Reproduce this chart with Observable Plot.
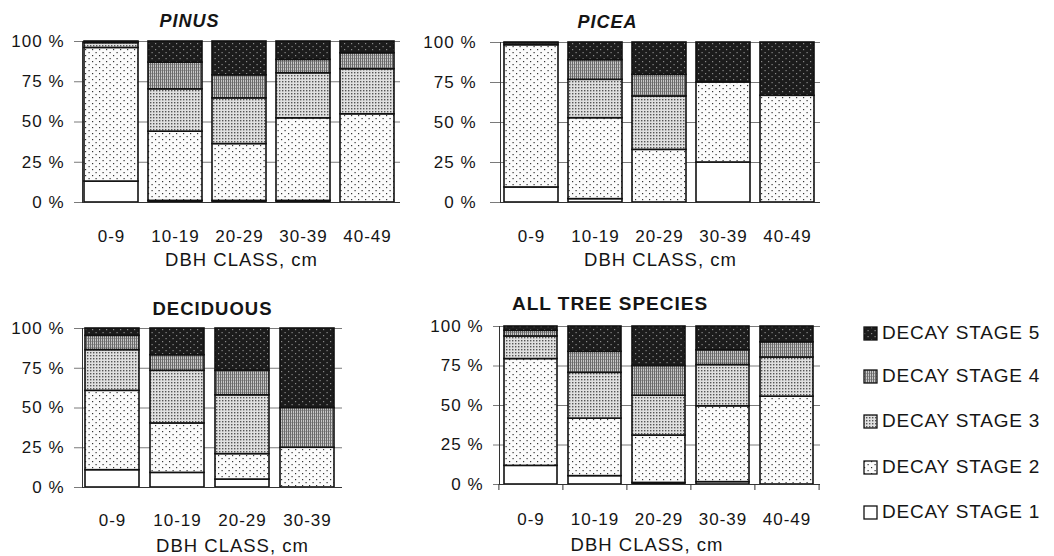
<!DOCTYPE html>
<html>
<head>
<meta charset="utf-8">
<script src="https://cdn.jsdelivr.net/npm/d3@7"></script>
<script src="https://cdn.jsdelivr.net/npm/@observablehq/plot@0.6"></script>
<style>
  html, body { margin: 0; padding: 0; background: #fff; }
  #fig { position: relative; width: 1054px; height: 556px; background: #fff; overflow: hidden;
         font-family: "Liberation Sans", Arial, sans-serif; color: #151515; }
  #fig > .panel { position: absolute; }
  .legend-row { position: absolute; left: 863px; display: flex; align-items: center; height: 20px;
                font-size: 19px; letter-spacing: 0.8px; color: #151515; }
  .legend-row svg { margin-right: 4px; }
</style>
</head>
<body>
<svg width="0" height="0" style="position:absolute">
  <defs>
    <pattern id="ds1" width="7" height="6" patternUnits="userSpaceOnUse">
      <rect width="7" height="6" fill="#ffffff"/>
    </pattern>
    <pattern id="ds2" width="7" height="6" patternUnits="userSpaceOnUse">
      <rect width="7" height="6" fill="#fbfbfb"/>
      <rect x="1" y="1" width="1.2" height="1.2" fill="#333"/>
      <rect x="4.5" y="4" width="1.2" height="1.2" fill="#333"/>
    </pattern>
    <pattern id="ds3" width="3" height="3" patternUnits="userSpaceOnUse">
      <rect width="3" height="3" fill="#e0e0e0"/>
      <rect x="0" y="0" width="1.4" height="1.4" fill="#555"/>
    </pattern>
    <pattern id="ds4" width="2" height="3" patternUnits="userSpaceOnUse">
      <rect width="2" height="3" fill="#c8c8c8"/>
      <rect x="0" y="0" width="1" height="3" fill="#6a6a6a"/>
      <rect x="1" y="1" width="1" height="1" fill="#999"/>
    </pattern>
    <pattern id="ds5" width="7" height="6" patternUnits="userSpaceOnUse">
      <rect width="7" height="6" fill="#1c1c1c"/>
      <rect x="1" y="1" width="1.2" height="1.2" fill="#8a8a8a"/>
      <rect x="4.5" y="4" width="1.2" height="1.2" fill="#8a8a8a"/>
    </pattern>
  </defs>
</svg>
<div id="fig"></div>
<script>
// ---- data ----
const stages = ["DECAY STAGE 1", "DECAY STAGE 2", "DECAY STAGE 3", "DECAY STAGE 4", "DECAY STAGE 5"];
const stageFills = ["url(#ds1)", "url(#ds2)", "url(#ds3)", "url(#ds4)", "url(#ds5)"];
const classes5 = ["0-9", "10-19", "20-29", "30-39", "40-49"];
const classes4 = ["0-9", "10-19", "20-29", "30-39"];
const yTicks = [0, 25, 50, 75, 100];
const xLabel = "DBH CLASS, cm";

// percentage per DBH class, stages 1..5 (bottom to top)
const pinus = [
  [13, 83, 3, 0.5, 0.5],
  [1, 43, 26.3, 16.6, 13.1],
  [1, 35.3, 28.4, 14.3, 21],
  [1, 51.3, 28, 8.3, 11.4],
  [0, 54.8, 28, 9.9, 7.3]
];
const picea = [
  [9.4, 88.9, 1.2, 0.5, 0],
  [2.1, 50.6, 24, 12.3, 11],
  [0, 32.9, 33.4, 13.5, 20.2],
  [25, 50, 0, 0, 25],
  [0, 66.7, 0, 0, 33.3]
];
const deciduous = [
  [10.9, 49.9, 25.6, 9, 4.6],
  [9.2, 31.1, 33.1, 9.8, 16.8],
  [5, 16, 37, 15.4, 26.6],
  [0, 25, 0, 25, 50]
];
const allSpecies = [
  [11.8, 67.6, 14.3, 3.6, 2.7],
  [5.3, 36.4, 29, 13.3, 16],
  [1, 30, 25.2, 18.8, 25],
  [1.5, 48, 26.1, 9.4, 15],
  [0, 55.6, 24.8, 9.6, 10]
];

function toRows(values, classes) {
  const rows = [];
  stages.forEach((s, j) => classes.forEach((c, i) => rows.push({cls: c, stage: s, value: values[i][j]})));
  return rows;
}

function panel(cfg) {
  const rows = toRows(cfg.values, cfg.classes);
  const step = (cfg.xRange[1] - cfg.xRange[0]) / cfg.classes.length;
  const marks = [
    Plot.gridY([25, 50, 75, 100], {stroke: "#7a7a7a", strokeOpacity: 1}),
    Plot.barY(rows, Plot.stackY({x: "cls", y: "value", fill: "stage", stroke: "#111", strokeWidth: 1.6})),
    Plot.axisY({ticks: yTicks, tickSize: cfg.yTickSize, tickPadding: cfg.yTickPad, tickFormat: d => `${d} %`,
                label: null, stroke: "#7a7a7a", fill: "#151515"}),
    Plot.frame({anchor: "left", stroke: "#333"}),
    Plot.ruleY([0], {stroke: "#333"}),
    Plot.axisX({tickSize: 0, tickPadding: cfg.xTickPad, label: null, fill: "#151515"}),
    Plot.text([cfg.title], {frameAnchor: "top", dx: cfg.titleDx, dy: cfg.titleDy, lineAnchor: "middle",
                fontWeight: "bold", fontStyle: cfg.italic ? "italic" : "normal", fontSize: cfg.titleSize, fill: "#151515"}),
    Plot.text([xLabel], {frameAnchor: "bottom", dx: cfg.labelDx, dy: cfg.labelDy, lineAnchor: "middle",
                fontSize: 18.5, fill: "#151515"})
  ];
  if (cfg.bandTicks) {
    marks.push(Plot.axisX({tickSize: 6, tickFormat: null, label: null, dx: -step / 2, stroke: "#333"}));
    marks.push(Plot.axisX({ticks: [cfg.classes[cfg.classes.length - 1]], tickSize: 6, tickFormat: null, label: null, dx: step / 2, stroke: "#333"}));
  }
  const chart = Plot.plot({
    width: cfg.width, height: cfg.height,
    marginLeft: cfg.m[0], marginRight: cfg.m[1], marginTop: cfg.m[2], marginBottom: cfg.m[3],
    x: {domain: cfg.classes, range: cfg.xRange, paddingInner: cfg.padIn, paddingOuter: cfg.padIn / 2},
    y: {domain: [0, 100]},
    color: {domain: stages, range: stageFills},
    style: {fontFamily: "Liberation Sans, Arial, sans-serif", fontSize: "17px", letterSpacing: "1px",
            background: "transparent", color: "#151515", overflow: "visible"},
    marks
  });
  chart.classList.add("panel");
  chart.style.left = cfg.left + "px";
  chart.style.top = cfg.top + "px";
  document.getElementById("fig").appendChild(chart);
}

panel({values: pinus, classes: classes5, title: "PINUS", italic: true, titleSize: 18,
  left: 0, top: 0, width: 410, height: 280, m: [82, 10, 41, 78], xRange: [79, 400], padIn: 0.156,
  yTickSize: 8, yTickPad: 10, xTickPad: 27, titleDx: -52, titleDy: -20, labelDx: 0, labelDy: 58});
panel({values: picea, classes: classes5, title: "PICEA", italic: true, titleSize: 18,
  left: 410, top: 0, width: 420, height: 280, m: [90, 10, 42, 78], xRange: [88, 409], padIn: 0.16,
  yTickSize: 10, yTickPad: 14, xTickPad: 27, titleDx: -53, titleDy: -20, labelDx: 0, labelDy: 58});
panel({values: deciduous, classes: classes4, title: "DECIDUOUS", italic: false, titleSize: 18.5,
  left: 0, top: 280, width: 410, height: 276, m: [82, 68, 48, 69], xRange: [79, 340], padIn: 0.17,
  yTickSize: 8, yTickPad: 10, xTickPad: 26, titleDx: 0, titleDy: -19, labelDx: 20, labelDy: 59});
panel({values: allSpecies, classes: classes5, title: "ALL TREE SPECIES", italic: false, titleSize: 19,
  left: 410, top: 280, width: 420, height: 276, m: [89, 10, 46, 72], xRange: [88, 409], padIn: 0.17,
  yTickSize: 6, yTickPad: 10, xTickPad: 28.5, titleDx: -50, titleDy: -23, labelDx: -13, labelDy: 61, bandTicks: true});

// ---- legend (top to bottom: stage 5 .. stage 1) ----
const legendY = [333, 376, 421, 467, 512];
const fig = document.getElementById("fig");
stages.slice().reverse().forEach((s, k) => {
  const idx = stages.length - 1 - k;
  const row = document.createElement("div");
  row.className = "legend-row";
  row.style.top = (legendY[k] - 10) + "px";
  row.innerHTML = `<svg width="15" height="15"><rect x="1" y="1" width="13" height="13" fill="${stageFills[idx]}" stroke="#111" stroke-width="1.3"/></svg><span>${s}</span>`;
  fig.appendChild(row);
});
</script>
</body>
</html>
